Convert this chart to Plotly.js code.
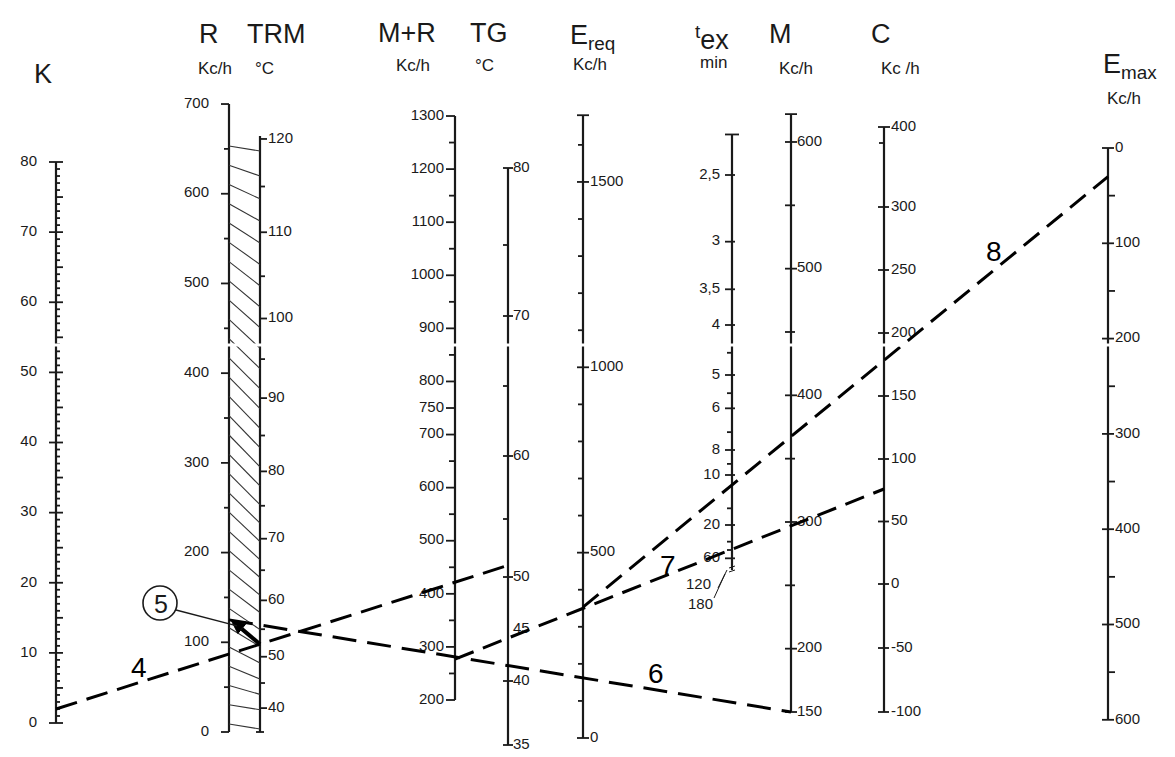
<!DOCTYPE html>
<html><head><meta charset="utf-8">
<script src="https://cdn.plot.ly/plotly-3.0.1.min.js"></script>
<style>html,body{margin:0;padding:0;background:#fff}</style>
</head><body>
<div id="chart" style="width:1175px;height:757px"></div>
<script>
// ================= DATA =================
// labelled graduations of each scale
const kLabels    = [0,10,20,30,40,50,60,70,80];
const rLabels    = [0,100,200,300,400,500,600,700];
const trmLabels  = [40,50,60,70,80,90,100,110,120];
const mrLabels   = [200,300,400,500,600,700,750,800,900,1000,1100,1200,1300];
const tgLabels   = [35,40,45,50,60,70,80];
const ereqLabels = [0,500,1000,1500];
const texValues  = [2.5,3,3.5,4,5,6,8,10,20,60];
const texLabels  = ['2,5','3','3,5','4','5','6','8','10','20','60'];
const texExtra   = ['120','180'];
const mLabels    = [150,200,300,400,500,600];
const cLabels    = [-100,-50,0,50,100,150,200,250,300,400];
const emaxLabels = [0,100,200,300,400,500,600];
// minor graduations
const rMinor     = [50,150,250,350,450,550,650];
const trmMinor   = [45,55,65,75,85,95,105,115];
const mrMinor    = [250,350,450,550,650,850,950,1050,1150,1250];
const tgMinor    = [55,65,75];
const ereqMinor  = [100,200,300,400,600,700,800,900,1100,1200,1300,1400,1600];
const texMinor   = [4.5,5.5,7,9,15,30,40];
const mMinor     = [250,350,450,550];
const cMinor     = [350];
const emaxMinor  = [50,150,250,350,450,550];
// scale ends
const axisNames  = ['K','R','TRM','MR','TG','Ereq','tex','M','C','Emax'];
const axisMin    = [0,0,35,200,35,0,200,150,-100,0];
const axisMax    = [80,700,120.3,1300,80,1680,2.27,622,375,600];
// worked example (dashed construction lines)
const lineIds        = ['4','6','7','8'];
const lineStartAxis  = ['K','R','MR','Ereq'];
const lineStartValue = [2,125,277,353];
const lineEndAxis    = ['TG','M','C','Emax'];
const lineEndValue   = [51,150,76,30];
// titles
const titleMain  = ['K','R','TRM','M+R','TG','E<sub>req</sub>','<sup>t</sup>ex','M','C','E<sub>max</sub>'];
const titleUnit  = ['','Kc/h','°C','Kc/h','°C','Kc/h','min','Kc/h','Kc /h','Kc/h'];

// ================= SCALES (layout) =================
function interp(cal){
  return v=>{
    for(let i=0;i<cal.length-1;i++){
      const [v0,y0]=cal[i],[v1,y1]=cal[i+1];
      if(v<=v1||i===cal.length-2) return y0+(y1-y0)*(v-v0)/(v1-v0);
    }
  };
}
const yR = v=>732-0.8971*v;
const S = {
  K:   {x:56,   y:v=>723-7.0125*v},
  R:   {x:229,  y:yR},
  TRM: {x:260,  y:v=>yR(4.45e-8*(Math.pow(v+273,4)-Math.pow(308,4)))},
  MR:  {x:455,  y:v=>700-0.5309*(v-200)},
  TG:  {x:508,  y:interp([[35,745],[40,681],[50,577],[55,519],[60,456],[70,316],[75,245],[80,168]])},
  Ereq:{x:583,  y:v=>738-0.3707*v},
  tex: {x:732,  y:v=>575-1000/v},
  M:   {x:791,  y:v=>712-1.2667*(v-150)},
  C:   {x:884,  y:interp([[-100,712],[0,584],[100,459],[200,333],[300,207],[350,143],[400,111]])},
  Emax:{x:1108, y:v=>148+0.953*v}
};
const INK='#1a1a1a';
const FONT='Liberation Sans, Arial, sans-serif';
const traces=[]; const shapes=[]; const ann=[];

// axis lines
const axX=[],axY=[];
axisNames.forEach((n,i)=>{
  axX.push(S[n].x,S[n].x,null); axY.push(S[n].y(axisMin[i]),S[n].y(axisMax[i]),null);
});
traces.push({x:axX,y:axY,mode:'lines',line:{color:INK,width:2.2},hoverinfo:'skip'});

// ticks
const tkX=[],tkY=[];
function ticks(n,vals,L,R){
  vals.forEach(v=>{const y=S[n].y(v); tkX.push(S[n].x-L,S[n].x+R,null); tkY.push(y,y,null);});
}
const kAll=[]; for(let v=0;v<=80;v++) kAll.push(v);
ticks('K',kAll.filter(v=>v%5!==0),0,4);
ticks('K',kAll.filter(v=>v%5===0&&v%10!==0),0,7);
ticks('K',kLabels,7,7);
ticks('R',rLabels,8,0); ticks('R',rMinor,5,0);
ticks('TRM',trmLabels,0,7); ticks('TRM',trmMinor,0,5); ticks('TRM',[35],4,4);
ticks('MR',mrLabels,9,0); ticks('MR',mrMinor,6,0);
ticks('TG',tgLabels.filter(v=>v!==45),5,5); ticks('TG',tgMinor,5,0);
ticks('Ereq',ereqLabels,6,6); ticks('Ereq',ereqMinor,5,0); ticks('Ereq',[1680],6,6);
ticks('tex',texValues,7,3); ticks('tex',texMinor,5,0); ticks('tex',[2.27],7,7);
ticks('M',mLabels,6,6); ticks('M',mMinor,6,4); ticks('M',[622],6,6);
ticks('C',cLabels.filter(v=>v!==400),6,5); ticks('C',cMinor,5,0); ticks('C',[375],6,6);
ticks('Emax',emaxLabels,6,6); ticks('Emax',emaxMinor,0,7);
traces.push({x:tkX,y:tkY,mode:'lines',line:{color:INK,width:1.8},hoverinfo:'skip'});

// tick labels
function labels(n,vals,texts,side,off,yOverride){
  traces.push({
    x:vals.map(()=>side==='left'?S[n].x-off:S[n].x+off),
    y:vals.map((v,i)=>yOverride&&yOverride[i]!=null?yOverride[i]:S[n].y(v)),
    text:texts||vals.map(String), mode:'text',
    textposition:side==='left'?'middle left':'middle right',
    textfont:{family:FONT,size:15,color:INK},cliponaxis:false,hoverinfo:'skip'
  });
}
labels('K',kLabels,null,'left',19);
labels('R',rLabels,null,'left',20);
labels('TRM',trmLabels,null,'right',8);
labels('MR',mrLabels,null,'left',11);
labels('TG',tgLabels,null,'right',5);
labels('Ereq',ereqLabels,null,'right',7);
labels('tex',texValues,texLabels,'left',12);
labels('M',mLabels,null,'right',6);
labels('C',cLabels,null,'right',7,cLabels.map(v=>v===400?S.C.y(375):null));
labels('Emax',emaxLabels,null,'right',7);
// tex tail labels 120 / 180 below the break
texExtra.forEach((t,i)=>ann.push({x:S.tex.x-34+2*i,y:583+20*i,text:t,showarrow:false,xref:'x',yref:'y',font:{family:FONT,size:15,color:INK}}));
traces.push({x:[S.tex.x-14,S.tex.x-5,null,S.tex.x-18,S.tex.x-7,null,S.tex.x-3,S.tex.x+3,null,S.tex.x-3,S.tex.x+3],
             y:[588,570,null,598,574,null,568,566,null,572,570],
             mode:'lines',line:{color:INK,width:1},hoverinfo:'skip'});

// hatched band between R and TRM (decorative)
const hX=[],hY=[];
const nH=31;
for(let i=0;i<nH;i++){
  const t=i/(nH-1);
  const yl=146+t*(724-146);
  const d=5+27*Math.pow(Math.sin(Math.PI*Math.min(1,t*1.05)),0.7);
  hX.push(S.R.x,S.TRM.x,null); hY.push(yl,Math.min(732,yl+d),null);
}
traces.push({x:hX,y:hY,mode:'lines',line:{color:'#333',width:1.1},hoverinfo:'skip'});

// construction lines
const dashes=['22px,10px','24px,11px','20px,10px','20px,10px'];
const segEnds=[];
lineIds.forEach((id,i)=>{
  const a=S[lineStartAxis[i]],b=S[lineEndAxis[i]];
  const x0=a.x,y0=a.y(lineStartValue[i]),x1=b.x,y1=b.y(lineEndValue[i]);
  segEnds.push([x0,y0,x1,y1]);
  traces.push({x:[x0,x1],y:[y0,y1],mode:'lines',line:{color:'#000',width:3,dash:dashes[i]},hoverinfo:'skip'});
});
// step 5: from line 4 at the TRM axis up to the R value used by line 6
const l4=segEnds[0];
const yTrm=l4[1]+(l4[3]-l4[1])*(S.TRM.x-l4[0])/(l4[2]-l4[0]);
const yRpt=S.R.y(lineStartValue[1]);
const hx=S.R.x+2, hy=yRpt, tx=S.TRM.x, ty=yTrm;
const dx=tx-hx, dy=ty-hy, len=Math.hypot(dx,dy), ux=dx/len, uy=dy/len;
const bx=hx+ux*14, by=hy+uy*14;
traces.push({x:[bx,tx],y:[by,ty],mode:'lines',line:{color:'#000',width:4},hoverinfo:'skip'});
shapes.push({type:'path',xref:'x',yref:'y',
  path:`M ${hx} ${hy} L ${bx-uy*6} ${by+ux*6} L ${bx+uy*6} ${by-ux*6} Z`,
  fillcolor:'#000',line:{color:'#000',width:1}});
shapes.push({type:'circle',xref:'x',yref:'y',x0:143,x1:177,y0:586,y1:620,line:{color:INK,width:1.6}});
shapes.push({type:'line',xref:'x',yref:'y',x0:176,y0:610,x1:S.R.x+8,y1:yRpt+6,line:{color:INK,width:1.3}});
ann.push({x:160.5,y:603.5,text:'5',showarrow:false,xref:'x',yref:'y',font:{family:FONT,size:25,color:INK}});
// line numbers
const idPos=[[139,667],[656,673],[668,565],[994,251]];
lineIds.forEach((id,i)=>ann.push({x:idPos[i][0],y:idPos[i][1],text:id,showarrow:false,xref:'x',yref:'y',font:{family:FONT,size:28,color:'#000'}}));

// titles
const tPos=[[43,74],[209,34],[276,34],[407,33],[489,33],[592,37],[712,38],[780,34],[881,34],[1130,66]];
const uPos=[[0,0],[215,68],[264,68],[413,65],[484,65],[590,64],[713,62],[796,68],[900,68],[1124,98]];
axisNames.forEach((n,i)=>{
  ann.push({x:tPos[i][0],y:tPos[i][1],text:titleMain[i],showarrow:false,xref:'x',yref:'y',font:{family:FONT,size:27,color:INK}});
  if(titleUnit[i]) ann.push({x:uPos[i][0],y:uPos[i][1],text:titleUnit[i],showarrow:false,xref:'x',yref:'y',font:{family:FONT,size:17,color:INK}});
});

// scan break across the sheet
shapes.push({type:'rect',xref:'x',yref:'y',x0:0,x1:1175,y0:343.5,y1:346.5,fillcolor:'#fff',line:{width:0},layer:'above'});

const layout={
  width:1175,height:757,margin:{l:0,r:0,t:0,b:0},
  paper_bgcolor:'#fff',plot_bgcolor:'#fff',showlegend:false,
  xaxis:{range:[0,1175],visible:false,fixedrange:true},
  yaxis:{range:[757,0],visible:false,fixedrange:true},
  shapes:shapes,annotations:ann
};
Plotly.newPlot('chart',traces,layout,{staticPlot:true,displayModeBar:false});
</script>
</body></html>
